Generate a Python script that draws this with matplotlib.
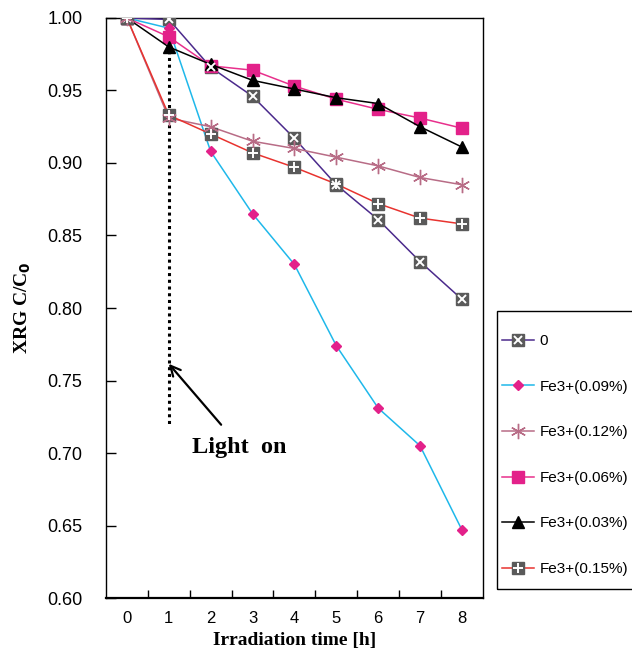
import matplotlib.pyplot as plt
from matplotlib.legend_handler import HandlerTuple
from matplotlib.patches import Rectangle

# Data
hours = [0, 1, 2, 3, 4, 5, 6, 7, 8]
fe_0 = [1.000, 0.999, 0.966, 0.946, 0.917, 0.885, 0.861, 0.832, 0.806]
fe_009 = [1.000, 0.993, 0.908, 0.865, 0.830, 0.774, 0.731, 0.705, 0.647]
fe_012 = [1.000, 0.931, 0.925, 0.915, 0.910, 0.904, 0.898, 0.890, 0.885]
fe_006 = [1.000, 0.987, 0.967, 0.964, 0.953, 0.944, 0.937, 0.931, 0.924]
fe_003 = [1.000, 0.980, 0.968, 0.957, 0.951, 0.945, 0.941, 0.925, 0.911]
fe_015 = [1.000, 0.933, 0.920, 0.907, 0.897, 0.8855, 0.872, 0.862, 0.858]

y_ticks = [0.60, 0.65, 0.70, 0.75, 0.80, 0.85, 0.90, 0.95, 1.00]
light_on_hour = 1

serif = ['Liberation Serif', 'DejaVu Serif']
sans = ['Liberation Sans', 'DejaVu Sans']
plt.rcParams['font.family'] = sans

fig = plt.figure(figsize=(6.32, 6.54), dpi=100)
ax = fig.add_axes([0.1677, 0.0856, 0.5963, 0.8869])

gray = '#5a5a5a'

# series "0": gray square with white X
l0, = ax.plot(hours, fe_0, color='#4b2a8c', lw=1.1, marker='s', ms=9,
              mfc=gray, mec=gray, zorder=3)
l0x, = ax.plot(hours, fe_0, ls='none', marker='x', ms=6, mew=1.4,
               mec='white', zorder=3.1)

l09, = ax.plot(hours, fe_009, color='#1fb8ea', lw=1.1, marker='D', ms=5.5,
               mfc='#e3218a', mec='#e3218a', zorder=3)
l12, = ax.plot(hours, fe_012, color='#b86c86', lw=1.1, zorder=3)
l12m, = ax.plot(hours, fe_012, ls='none', marker=(6, 2, 0), ms=11, mew=1.0,
                mec='#b86c86', zorder=3.1)
l06, = ax.plot(hours, fe_006, color='#e8308c', lw=1.1, marker='s', ms=8.5,
               mfc='#e3218a', mec='#e3218a', zorder=3)
l03, = ax.plot(hours, fe_003, color='black', lw=1.1, marker='^', ms=9,
               mfc='black', mec='black', zorder=3)

# series 0.15 %: gray square with white plus
l15, = ax.plot(hours, fe_015, color='#e8332f', lw=1.1, marker='s', ms=9,
               mfc=gray, mec=gray, zorder=3)
l15p, = ax.plot(hours, fe_015, ls='none', marker='+', ms=7, mew=1.4,
                mec='white', zorder=3.1)

# light on marker line and arrow
ax.plot([light_on_hour, light_on_hour], [0.982, 0.718], color='black',
        ls=(0, (1, 1.2)), lw=2.2, zorder=2)
ax.annotate('', xy=(light_on_hour, 0.7615), xytext=(2.25, 0.7195),
            arrowprops=dict(arrowstyle='->', lw=1.6, color='black',
                            mutation_scale=18, shrinkA=0, shrinkB=0))
ax.text(1.55, 0.7035, 'Light  on', fontsize=17.5, fontweight='bold',
        family=serif, ha='left', va='center')

ax.set_xlim(-0.5, 8.5)
ax.set_ylim(0.60, 1.00)

# Excel-style category axis: ticks between categories, labels at centers
ax.set_xticks([h + 0.5 for h in hours[:-1]])
ax.set_xticklabels([])
ax.set_xticks(hours, minor=True)
ax.set_xticklabels([str(h) for h in hours], minor=True, fontsize=12)
ax.tick_params(axis='x', which='major', direction='in', length=6, width=1)
ax.tick_params(axis='x', which='minor', length=0, pad=9)

ax.set_yticks(y_ticks)
ax.set_yticklabels([f'{v:.2f}' for v in y_ticks], fontsize=13)
ax.tick_params(axis='y', direction='in', length=7, width=1, pad=17)

for sp in ax.spines.values():
    sp.set_linewidth(1.0)
ax.spines['bottom'].set_linewidth(1.6)

ax.set_xlabel('Irradiation time [h]', fontsize=14, fontweight='bold',
              family=serif, labelpad=5)
ax.set_ylabel('XRG C/C$_\\mathbf{0}$', fontsize=14, fontweight='bold',
              family=serif, labelpad=10)

# legend box (frame drawn separately so the padding matches the reference)
fig.patches.append(Rectangle((497 / 632, 1 - 589 / 654), 0.3, 278 / 654,
                             transform=fig.transFigure, fill=False,
                             edgecolor='black', lw=1.0))
handles = [(l0, l0x), l09, (l12, l12m), l06, l03, (l15, l15p)]
labels = ['0', 'Fe3+(0.09%)', 'Fe3+(0.12%)', 'Fe3+(0.06%)', 'Fe3+(0.03%)',
          'Fe3+(0.15%)']
leg = fig.legend(handles, labels, loc='upper left',
                 bbox_to_anchor=(502 / 632, 1 - 334 / 654),
                 handler_map={tuple: HandlerTuple(ndivide=1)},
                 fontsize=11, frameon=False, handlelength=2.1,
                 handletextpad=0.35, labelspacing=2.07, borderpad=0,
                 borderaxespad=0, numpoints=1)

fig.savefig('out.png', dpi=100)
